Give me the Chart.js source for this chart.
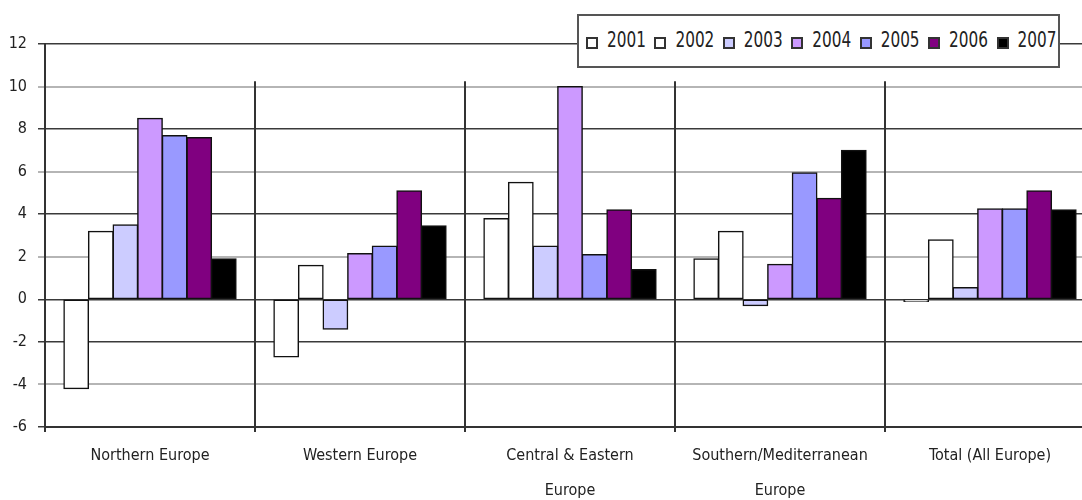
<!DOCTYPE html>
<html>
<head>
<meta charset="utf-8">
<script src="https://cdn.jsdelivr.net/npm/chart.js@4.4.1/dist/chart.umd.min.js"></script>
<style>
  html, body { margin: 0; padding: 0; background: #fff; overflow: hidden; }
  #wrap { position: relative; width: 1100px; height: 500px; }
  #legend {
    position: absolute; left: 577px; top: 14px; width: 479px; height: 50px;
    border: 2px solid #555; background: #fff;
    display: flex; align-items: center; padding-left: 0;
    font-family: 'Liberation Sans Narrow', 'Arial Narrow', 'DejaVu Sans Condensed', sans-serif;
    font-size: 17px; color: #222;
  }
  #legend .item { width: 69.7px; display: flex; align-items: center; box-sizing: border-box; padding-left: 7px; white-space: nowrap; }
  #legend .sw { width: 8px; height: 8px; border: 2px solid #333; margin-right: 9px; margin-top: 3px; }
  #legend .lbl { display: inline-block; transform: scaleY(1.25); margin-top: -5px; }
</style>
</head>
<body>
<div id="wrap">
  <canvas id="chart" width="1100" height="500"></canvas>
  <div id="legend"></div>
</div>
<script>
// categories and values
const categories = [
  ['Northern Europe'],
  ['Western Europe'],
  ['Central & Eastern', 'Europe'],
  ['Southern/Mediterranean', 'Europe'],
  ['Total (All Europe)']
];
const years = ['2001', '2002', '2003', '2004', '2005', '2006', '2007'];
const v2001 = [-4.2, -2.7, 3.8, 1.9, -0.1];
const v2002 = [3.2, 1.6, 5.5, 3.2, 2.8];
const v2003 = [3.5, -1.4, 2.5, -0.3, 0.55];
const v2004 = [8.5, 2.15, 10.0, 1.65, 4.25];
const v2005 = [7.7, 2.5, 2.1, 5.95, 4.25];
const v2006 = [7.6, 5.1, 4.2, 4.75, 5.1];
const v2007 = [1.9, 3.45, 1.4, 7.0, 4.2];
const yMin = -6, yMax = 12, yStep = 2;

const seriesValues = [v2001, v2002, v2003, v2004, v2005, v2006, v2007];
const fills = ['#ffffff', '#ffffff', '#ccccff', '#cc99ff', '#9999ff', '#800080', '#000000'];
const lightGrid = [10, 6, 2, -4];
const FONT = "'Liberation Sans Narrow', 'Arial Narrow', 'DejaVu Sans Condensed', sans-serif";

// vertical lines between the regions, starting a bit under the top
const separators = {
  id: 'separators',
  beforeDatasetsDraw(chart) {
    const { ctx, scales: { x, y } } = chart;
    const top = y.getPixelForValue(10.25);
    const bottom = y.getPixelForValue(yMin);
    ctx.save();
    ctx.strokeStyle = '#333';
    ctx.lineWidth = 2;
    for (let i = 0; i < categories.length - 1; i++) {
      const px = (x.getPixelForValue(i) + x.getPixelForValue(i + 1)) / 2;
      ctx.beginPath();
      ctx.moveTo(px, top);
      ctx.lineTo(px, bottom);
      ctx.stroke();
    }
    ctx.restore();
  }
};

new Chart(document.getElementById('chart'), {
  type: 'bar',
  data: {
    labels: categories,
    datasets: years.map((yr, i) => ({
      label: yr,
      data: seriesValues[i],
      backgroundColor: fills[i],
      borderColor: '#111',
      borderWidth: 1.5,
      borderSkipped: false,
      inflateAmount: 0.6,
      barPercentage: 1,
      categoryPercentage: 0.82
    }))
  },
  options: {
    responsive: false,
    animation: false,
    layout: { padding: { top: 44, right: 5, left: 0, bottom: 0 } },
    plugins: { legend: { display: false }, tooltip: { enabled: false } },
    scales: {
      x: {
        grid: { offset: true, drawOnChartArea: false, tickLength: 5, color: '#333', lineWidth: 2 },
        border: { display: true, color: '#333', width: 2 },
        ticks: { color: '#222', padding: 6, maxRotation: 0, autoSkip: false,
                 font: { family: FONT, size: 16, lineHeight: 2.19 } },
        afterFit(scale) { scale.height = 73; }
      },
      y: {
        min: yMin, max: yMax,
        ticks: { stepSize: yStep, color: '#222', padding: 11,
                 font: { family: FONT, size: 16 } },
        grid: {
          tickLength: 7,
          lineWidth: ctx => lightGrid.includes(ctx.tick && ctx.tick.value) ? 2 : 1.5,
          color: ctx => lightGrid.includes(ctx.tick && ctx.tick.value) ? '#b5b5b5' : '#3a3a3a'
        },
        border: { display: true, color: '#333', width: 2 },
        afterFit(scale) { scale.width = 45; }
      }
    }
  },
  plugins: [separators]
});

// html legend
const legend = document.getElementById('legend');
years.forEach((yr, i) => {
  const item = document.createElement('div');
  item.className = 'item';
  item.innerHTML = '<span class="sw" style="background:' + fills[i] + '"></span><span class="lbl">' + yr + '</span>';
  legend.appendChild(item);
});
</script>
</body>
</html>
